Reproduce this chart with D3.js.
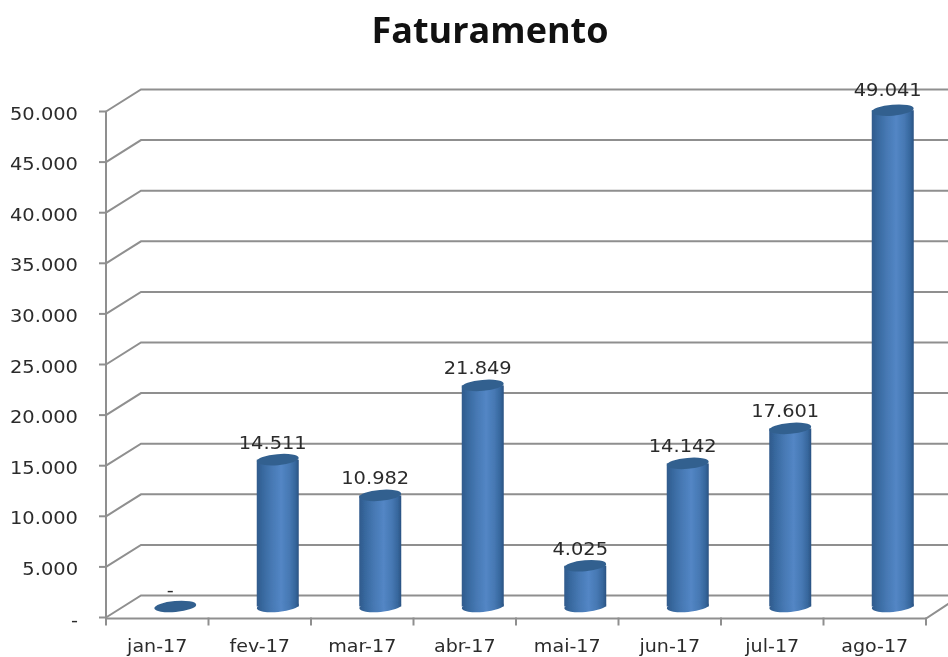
<!DOCTYPE html>
<html><head><meta charset="utf-8">
<script src="https://cdn.jsdelivr.net/npm/d3@7"></script>
<style>html,body{margin:0;padding:0;background:#fff}svg{display:block}</style>
</head><body><svg id="c" width="948" height="657"></svg>
<script>
const months = ["jan-17","fev-17","mar-17","abr-17","mai-17","jun-17","jul-17","ago-17"];
const revenue = [0,14511,10982,21849,4025,14142,17601,49041];
const yTicks = [0,5000,10000,15000,20000,25000,30000,35000,40000,45000,50000];
const title = "Faturamento";

const fmt = v => v === 0 ? "-" : d3.format(",")(v).replace(/,/g,".");
const svg = d3.select("#c").style("font-family","'DejaVu Sans',sans-serif");
const x = d3.scaleBand().domain(months).range([106,926]);
const y = d3.scaleLinear().domain([0,50000]).range([617.5,111.5]);
const dx = 35, dy = -22, grid = "#8f8f8f", ink = "#2b2b2b";

const defs = svg.append("defs");
const g = defs.append("linearGradient").attr("id","cyl");
[[0,"#2f5a8c"],[.15,"#38699f"],[.35,"#4678b3"],[.58,"#5386c5"],[.78,"#4678b3"],[.92,"#36669c"],[1,"#2a5382"]]
  .forEach(([o,c])=>g.append("stop").attr("offset",o).attr("stop-color",c));
defs.append("filter").attr("id","soft").append("feGaussianBlur").attr("stdDeviation",.5);

// walls and gridlines
const wall = svg.append("g").attr("fill","none").attr("stroke",grid).attr("stroke-width",2).attr("filter","url(#soft)");
wall.selectAll(".g").data(yTicks).join("path")
  .attr("d",d=>`M${x.range()[0]},${y(d)}L${x.range()[0]+dx},${y(d)+dy}H${x.range()[1]+dx}`);
wall.append("path").attr("d",`M${x.range()[0]},${y(50000)}V${y(0)+1}H${x.range()[1]}L${x.range()[1]+dx},${y(0)+dy}`);
wall.selectAll(".yt").data(yTicks).join("line")
  .attr("x1",x.range()[0]-7).attr("x2",x.range()[0]).attr("y1",d=>y(d)).attr("y2",d=>y(d));
wall.selectAll(".xt").data(d3.range(months.length+1)).join("line")
  .attr("x1",i=>x.range()[0]+i*x.bandwidth()).attr("x2",i=>x.range()[0]+i*x.bandwidth())
  .attr("y1",y(0)).attr("y2",y(0)+8);

// cylinders
const rx = 21, ry = 5.5, tilt = -5, cx = d => x(d)+x.bandwidth()/2+dx/2+0.5, base = -11;
const bars = svg.append("g").attr("filter","url(#soft)");
months.forEach((m,i)=>{
  const v = revenue[i], top = y(v)+base, bot = y(0)+base;
  if (v > 0) {
    const b = bars.append("g");
    b.append("rect").attr("x",cx(m)-rx).attr("width",2*rx).attr("y",top).attr("height",bot-top).attr("fill","url(#cyl)");
    b.append("ellipse").attr("cx",cx(m)).attr("cy",bot).attr("rx",rx).attr("ry",ry)
      .attr("transform",`rotate(${tilt} ${cx(m)} ${bot})`).attr("fill","url(#cyl)");
  }
  bars.append("ellipse").attr("cx",cx(m)).attr("cy",top).attr("rx",rx).attr("ry",ry)
    .attr("transform",`rotate(${tilt} ${cx(m)} ${top})`).attr("fill","#33618f");
});

// text, widened horizontally like the source
function stretch(sel, k){ sel.each(function(){
  const w = this.getComputedTextLength();
  this.setAttribute("textLength", w*k); this.setAttribute("lengthAdjust","spacingAndGlyphs"); }); }
const text = svg.append("g").attr("fill",ink).attr("font-size",18.5);
text.selectAll(".yl").data(yTicks).join("text").attr("class","yl")
  .attr("x",78).attr("y",d=>y(d)+8).attr("text-anchor","end").text(fmt).call(stretch,1.05);
text.selectAll(".xl").data(months).join("text").attr("class","xl")
  .attr("x",d=>x(d)+x.bandwidth()/2).attr("y",651.5).attr("font-size",18).attr("text-anchor","middle").text(d=>d).call(stretch,1.06);
text.selectAll(".dl").data(months).join("text").attr("class","dl")
  .attr("x",d=>cx(d)-5).attr("y",(d,i)=>y(revenue[i])+base-(revenue[i]>40000?14:11)).attr("text-anchor","middle")
  .text((d,i)=>fmt(revenue[i])).call(stretch,1.05);
svg.append("text").attr("x",490).attr("y",43).attr("text-anchor","middle")
  .attr("font-family","'Open Sans',sans-serif").attr("font-weight",700).attr("font-size",36).attr("fill","#111")
  .text(title);
</script></body></html>
